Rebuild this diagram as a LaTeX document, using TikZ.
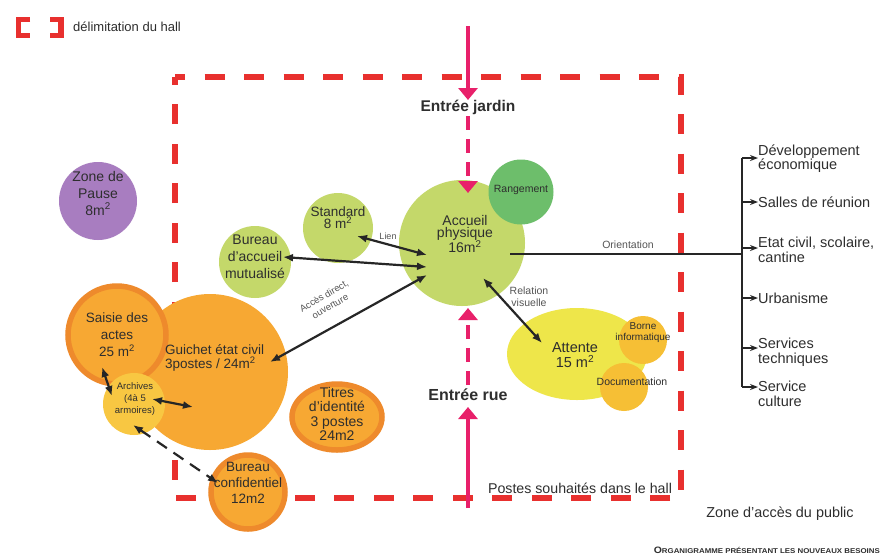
\documentclass[tikz,border=0pt]{standalone}
\usepackage{fontspec}
\setmainfont{Liberation Sans}
\usetikzlibrary{arrows.meta,shapes.geometric}
\definecolor{hallred}{HTML}{E8302E}
\definecolor{entpink}{HTML}{E8206A}
\definecolor{lgreen}{HTML}{C4D86A}
\definecolor{dgreen}{HTML}{6DBE6B}
\definecolor{orfill}{HTML}{F7A833}
\definecolor{orring}{HTML}{EE8A2C}
\definecolor{yarch}{HTML}{F8C742}
\definecolor{yatt}{HTML}{EEE64A}
\definecolor{ydoc}{HTML}{F6BF35}
\definecolor{purp}{HTML}{A87DC0}
\definecolor{txt}{HTML}{2E2E2E}
\definecolor{gtxt}{HTML}{555555}
\newcommand{\fs}[2]{\fontsize{#1}{#2}\selectfont}
\begin{document}
\begin{tikzpicture}[x=1pt,y=-1pt,
  bub/.style={circle,inner sep=0pt,draw=none},
  ell/.style={ellipse,inner sep=0pt,draw=none},
  ringed/.style={draw=orring,line width=5.5pt},
  lbl/.style={align=center,text=txt,inner sep=0pt},
  glbl/.style={align=center,text=gtxt,inner sep=0pt},
  hall/.style={draw=hallred,line width=6pt,dash pattern=on 20pt off 19.5pt,dash phase=10pt},
  entry/.style={draw=entpink,line width=3.6pt,-{Triangle[width=19pt,length=12pt]}},
  entrydash/.style={entry,dash pattern=on 14pt off 9pt},
  link/.style={draw=black!85,line width=2.2pt,{Latex[length=10pt,width=8pt]}-{Latex[length=10pt,width=8pt]}},
  brarrow/.style={draw=black!85,line width=1.6pt,-{Stealth[length=8pt,width=6pt]}},
  brtxt/.style={anchor=west,align=left,text=txt,inner sep=0pt,font=\fs{14.5}{14.5}}
]
\useasboundingbox (0,0) rectangle (883,558);
\fill[white] (0,0) rectangle (883,558);

% legend
\draw[hallred,line width=5.5pt,miter limit=10] (30,19.5) -- (18.5,19.5) -- (18.5,35.5) -- (30,35.5);
\draw[hallred,line width=5.5pt] (50,19.5) -- (61,19.5) -- (61,35.5) -- (50,35.5);
\node[lbl,anchor=west,font=\fs{13}{15}] (legend) at (73,27) {délimitation du hall};

% hall boundary
\draw[hall] (175,77) -- (681,77) -- (681,498) -- (175,498) -- cycle;

% bubbles
\node[bub,fill=purp,minimum size=78pt] (pause) at (98,201) {};
\node[bub,fill=orfill,minimum size=156pt] (guichet) at (210,372) {};
\node[bub,fill=orfill,ringed,minimum size=98pt] (saisie) at (117,335) {};
\node[bub,fill=yarch,minimum size=62pt] (archives) at (134,404) {};
\node[bub,fill=orfill,ringed,minimum size=74pt] (confid) at (248,492) {};
\node[ell,fill=orfill,ringed,minimum width=90pt,minimum height=66pt] (titres) at (337,417) {};
\node[bub,fill=lgreen,minimum size=72pt] (bureau) at (255,262) {};
\node[bub,fill=lgreen,minimum size=70pt] (standard) at (338,228) {};
\node[bub,fill=lgreen,minimum size=126pt] (accueil) at (462,243) {};
\node[bub,fill=dgreen,minimum size=65pt] (rangement) at (521,192) {};
\node[ell,fill=yatt,minimum width=140pt,minimum height=92pt] (attente) at (577,354) {};
\node[bub,fill=ydoc,minimum size=48pt] (borne) at (643,340) {};
\node[bub,fill=ydoc,minimum size=48pt] (doc) at (624,387) {};

% bubble texts
\node[lbl,font=\fs{14}{17}] (tpause) at (98,193) {Zone de\\Pause\\8m\textsuperscript{2}};
\node[lbl,font=\fs{13.5}{17}] (tsaisie) at (117,335) {Saisie des\\actes\\25 m\textsuperscript{2}};
\node[lbl,anchor=west,align=left,font=\fs{13.5}{14.5}] (tguichet) at (165,358) {Guichet état civil\\3postes / 24m\textsuperscript{2}};
\node[lbl,font=\fs{9.5}{12}] (tarch) at (135,399) {Archives\\(4à 5\\armoires)};
\node[lbl,font=\fs{13.5}{16}] (tconfid) at (248,483) {Bureau\\confidentiel\\12m2};
\node[lbl,font=\fs{14}{14.5}] (ttitres) at (337,414) {Titres\\d'identité\\3 postes\\24m2};
\node[lbl,font=\fs{14}{17}] (tbureau) at (255,257) {Bureau\\d'accueil\\mutualisé};
\node[lbl,font=\fs{13.5}{12}] (tstandard) at (338,218) {Standard\\8 m\textsuperscript{2}};
\node[lbl,font=\fs{14}{12}] (taccueil) at (465,234) {Accueil\\physique\\16m\textsuperscript{2}};
\node[lbl,font=\fs{10.5}{12}] (trang) at (521,190) {Rangement};
\node[lbl,font=\fs{14.5}{15.5}] (tattente) at (575,355) {Attente\\15 m\textsuperscript{2}};
\node[lbl,font=\fs{10}{11}] (tborne) at (643,333) {Borne\\informatique};
\node[lbl,font=\fs{10.5}{12}] (tdoc) at (632,382) {Documentation};

% entries
\coordinate (jtop) at (468,26);
\coordinate (jmid) at (468,100);
\coordinate (jdash) at (468,116);
\coordinate (jend) at (468,193);
\draw[entry] (jtop) -- (jmid);
\draw[entrydash] (jdash) -- (jend);
\node[lbl,font=\bfseries\fs{15.5}{17}] (ejardin) at (468,107) {Entrée jardin};
\coordinate (rbot) at (468,508);
\coordinate (rmid) at (468,407);
\coordinate (rdash) at (468,385);
\coordinate (rend) at (468,308);
\draw[entry] (rbot) -- (rmid);
\draw[entrydash] (rdash) -- (rend);
\node[lbl,font=\bfseries\fs{16}{17}] (erue) at (468,395) {Entrée rue};

% links
\coordinate (stdA) at (357,236);
\coordinate (accA) at (427,255);
\coordinate (burA) at (283,257);
\coordinate (accB) at (427,267);
\coordinate (guiA) at (270,362);
\coordinate (accC) at (427,275);
\coordinate (accD) at (483,278);
\coordinate (attA) at (542,343);
\coordinate (saiA) at (102,367);
\coordinate (arcA) at (112,396);
\coordinate (arcB) at (152,399);
\coordinate (guiB) at (193,407);
\coordinate (arcC) at (133,425);
\coordinate (conA) at (218,483);
\draw[link] (stdA) -- (accA);
\draw[link] (burA) -- (accB);
\draw[link] (guiA) -- (accC);
\draw[link] (accD) -- (attA);
\draw[link] (saiA) -- (arcA);
\draw[link] (arcB) -- (guiB);
\draw[link,dash pattern=on 12pt off 8pt] (arcC) -- (conA);
\node[glbl,font=\fs{9}{10}] (lien) at (388,236) {Lien};
\node[glbl,font=\fs{9.5}{12},rotate=30] (acces) at (327,301) {Accès direct,\\ouverture};
\node[glbl,font=\fs{10.5}{12}] (relation) at (529,297) {Relation\\visuelle};

% orientation
\coordinate (accO) at (510,254);
\coordinate (hub) at (742,254);
\coordinate (vtop) at (742,158);
\coordinate (vbot) at (742,387);
\draw[draw=black!85,line width=2.2pt] (accO) -- (hub);
\node[glbl,font=\fs{10.5}{12}] (orient) at (628,245) {Orientation};
\draw[draw=black!85,line width=1.6pt] (vtop) -- (vbot);
\node[brtxt] (b1) at (758,158.5) {Développement\\économique};
\node[brtxt] (b2) at (758,202) {Salles de réunion};
\node[brtxt] (b3) at (758,250) {Etat civil, scolaire,\\cantine};
\node[brtxt] (b4) at (758,298) {Urbanisme};
\node[brtxt] (b5) at (758,352) {Services\\techniques};
\node[brtxt] (b6) at (758,394) {Service\\culture};
\draw[brarrow] (vtop) -- (vtop -| b1.west);
\draw[brarrow] (742,202) coordinate (v2) -- (v2 -| b2.west);
\draw[brarrow] (742,248) coordinate (v3) -- (v3 -| b3.west);
\draw[brarrow] (742,298) coordinate (v4) -- (v4 -| b4.west);
\draw[brarrow] (742,348) coordinate (v5) -- (v5 -| b5.west);
\draw[brarrow] (vbot) -- (vbot -| b6.west);

% bottom texts
\node[glbl,text=txt,font=\fs{14.2}{16}] (postes) at (580,488) {Postes souhaités dans le hall};
\node[glbl,text=txt,font=\fs{14.4}{16}] (zone) at (780,514) {Zone d'accès du public};
\node[lbl,anchor=east,font=\bfseries] (caption) at (880,550) {\resizebox{226pt}{6.5pt}{{\fs{8}{9}O}{\fs{6}{7}RGANIGRAMME P}{\fs{6}{7}RÉSENTANT LES NOUVEAUX BESOINS}}};
\end{tikzpicture}
\end{document}
